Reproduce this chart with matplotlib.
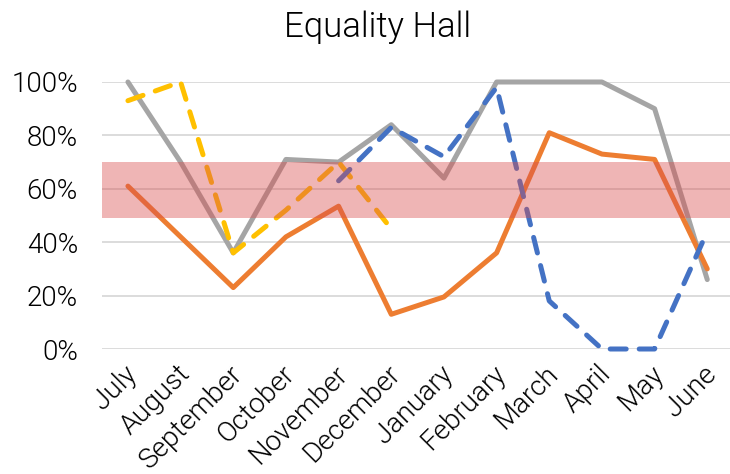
import matplotlib.pyplot as plt
from matplotlib.ticker import PercentFormatter
from matplotlib.transforms import ScaledTranslation

## chart data
months = ['July', 'August', 'September', 'October', 'November', 'December',
          'January', 'February', 'March', 'April', 'May', 'June']
grayVals = [1.00, 0.70, 0.36, 0.71, 0.70, 0.84, 0.64, 1.00, 1.00, 1.00, 0.90, 0.26]
orangeVals = [0.61, 0.42, 0.23, 0.42, 0.535, 0.13, 0.195, 0.36, 0.81, 0.73, 0.71, 0.30]
yellowVals = [0.93, 1.00, 0.36, 0.52, 0.70, 0.45]
blueVals = [0.63, 0.83, 0.72, 0.98, 0.18, 0.00, 0.00, 0.44]
bandLow, bandHigh = 0.49, 0.70
yTicks = [0, 0.2, 0.4, 0.6, 0.8, 1.0]

plt.rcParams['font.family'] = ['Roboto', 'DejaVu Sans']

fig = plt.figure(figsize = (7.3, 4.74), dpi = 100)
ax = fig.add_axes([101.6 / 730, (474 - 349) / 474, 632 / 730, 267 / 474])

x = list(range(len(months)))
ax.plot(x, grayVals, color = '#A5A5A5', lw = 3.6, solid_capstyle = 'round', clip_on = False, zorder = 3)
ax.plot(x, orangeVals, color = '#ED7D31', lw = 3.6, solid_capstyle = 'round', clip_on = False, zorder = 3)
ax.plot(x[:len(yellowVals)], yellowVals, color = '#FFC000', lw = 3.6, ls = (0, (3.2, 2.6)),
        dash_capstyle = 'round', clip_on = False, zorder = 3)
ax.plot(x[4:4 + len(blueVals)], blueVals, color = '#4472C4', lw = 3.6, ls = (0, (3.2, 2.6)),
        dash_capstyle = 'round', clip_on = False, zorder = 3)

## target band drawn over the lines
ax.axhspan(bandLow, bandHigh, color = '#D94F4F', alpha = 0.42, lw = 0, zorder = 4)

ax.set_xlim(-0.5, 11.5)
ax.set_ylim(0, 1.0)
ax.set_yticks(yTicks)
ax.yaxis.set_major_formatter(PercentFormatter(1.0, decimals = 0))
ax.grid(axis = 'y', color = '#D9D9D9', lw = 1.3, zorder = 0)
ax.set_axisbelow(True)
for s in ax.spines.values():
	s.set_visible(False)
ax.tick_params(axis = 'y', length = 0, labelsize = 20, colors = 'black', pad = 17)
ax.tick_params(axis = 'x', length = 0, labelsize = 20, colors = 'black', pad = 15)
ax.set_xticks(x)
ax.set_xticklabels(months, rotation = 45, ha = 'right', va = 'center', rotation_mode = 'anchor')
shift = ScaledTranslation(5 / 100, 0, fig.dpi_scale_trans)
for lbl in ax.get_xticklabels():
	lbl.set_transform(lbl.get_transform() + shift)
for lbl in ax.get_xticklabels() + ax.get_yticklabels():
	lbl.set_fontweight(300)

fig.text(378 / 730, 1 - 37 / 474, 'Equality Hall', ha = 'center', va = 'baseline', fontsize = 25, fontweight = 300, color = 'black')

fig.savefig('out.png', dpi = 100)
